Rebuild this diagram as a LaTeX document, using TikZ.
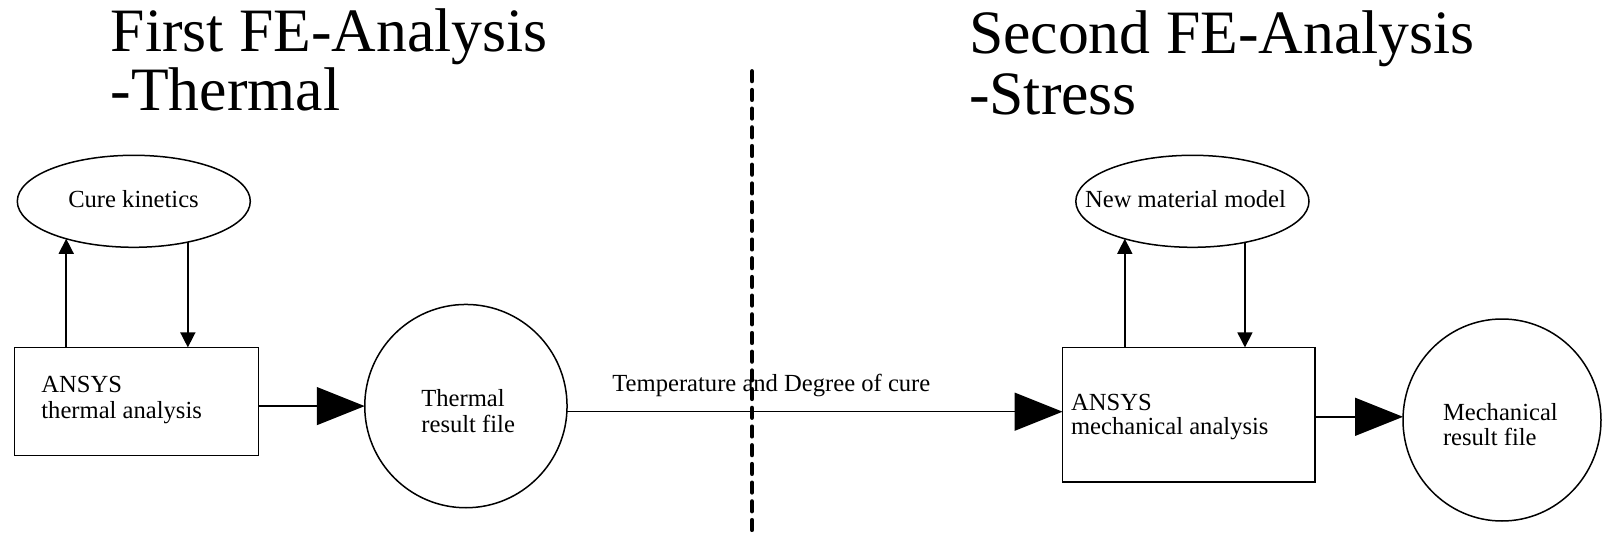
\documentclass[tikz,border=0pt]{standalone}
\usepackage{fontspec}
\setmainfont{Liberation Serif}
\usetikzlibrary{shapes.geometric,arrows.meta}
\begin{document}
\begin{tikzpicture}[x=0.5pt,y=-0.5pt,
  shapeline/.style={draw=black,line width=0.75pt,inner sep=0pt,outer sep=0pt},
  ellnode/.style={shapeline,ellipse},
  boxnode/.style={shapeline,rectangle},
  title/.style={inner sep=0pt,anchor=base west,font=\fontsize{30.85pt}{36pt}\selectfont},
  lbl/.style={inner sep=0pt,font=\fontsize{12.3pt}{14pt}\selectfont},
  smallarrow/.style={line width=0.75pt,-{Triangle[length=7.5pt,width=7.5pt]}},
  bigarrow/.style={line width=0.75pt,-{Triangle[length=24pt,width=19pt]}},
  divider/.style={line width=2.4pt,line cap=round,dash pattern=on 4.7pt off 4.65pt}
]
\useasboundingbox (0,0) rectangle (1602,535);

% shapes
\node[ellnode,minimum width=116.5pt,minimum height=46pt] (ck) at (133.8,201.3) {};
\node[ellnode,minimum width=116.6pt,minimum height=46pt] (nm) at (1192.4,201.3) {};
\node[boxnode,minimum width=122.1pt,minimum height=54.15pt] (b1) at (136.4,401.55) {};
\node[boxnode,minimum width=126.2pt,minimum height=67.4pt] (b2) at (1188.8,414.8) {};
\node[ellnode,minimum width=101.15pt,minimum height=101.65pt] (c1) at (465.9,406.1) {};
\node[ellnode,minimum width=99pt,minimum height=101pt] (c2) at (1502,420) {};

% titles
\node[title] (t1a) at (110.3,51.1) {First FE-Analysis};
\node[title] (t1b) at (110.3,110.3) {-Thermal};
\node[title] (t2a) at (968.6,53.1) {Second FE-Analysis};
\node[title] (t2b) at (968.6,114.4) {-Stress};

% labels
\node[lbl,anchor=base] (ckt) at (133.5,207.5) {Cure kinetics};
\node[lbl,anchor=base] (nmt) at (1185.5,207.5) {New material model};
\node[lbl,anchor=base west] (b1a) at (41,392.8) {ANSYS};
\node[lbl,anchor=base west] (b1b) at (41,418.4) {thermal analysis};
\node[lbl,anchor=base west] (c1a) at (421,406.7) {Thermal};
\node[lbl,anchor=base west] (c1b) at (421,432.1) {result file};
\node[lbl,anchor=base west] (b2a) at (1070.7,410.4) {ANSYS};
\node[lbl,anchor=base west] (b2b) at (1070.7,434.8) {mechanical analysis};
\node[lbl,anchor=base west] (c2a) at (1442.6,420.5) {Mechanical};
\node[lbl,anchor=base west] (c2b) at (1442.6,445.8) {result file};
\node[lbl,anchor=base west] (tdc) at (612,391.3) {Temperature and Degree of cure};

% feedback arrows
\draw[smallarrow] (ck.209 |- b1.north) -- (ck.209);
\draw[smallarrow] (ck.323) -- (ck.323 |- b1.north);
\draw[smallarrow] (nm.209 |- b2.north) -- (nm.209);
\draw[smallarrow] (nm.322) -- (nm.322 |- b2.north);

% main flow
\draw[bigarrow] (b1.east |- c1.west) -- (c1.west);
\coordinate (lo) at ([yshift=-2.8pt]c1.east);
\draw[bigarrow] (lo) -- (lo -| b2.west);
\coordinate (ro) at ([yshift=-1pt]b2.east);
\draw[bigarrow] (ro) -- (ro -| c2.west);

% divider
\coordinate (dtop) at (752,71.5);
\coordinate (dbot) at (752,537);
\draw[divider] (dtop) -- (dbot);
\end{tikzpicture}
\end{document}
